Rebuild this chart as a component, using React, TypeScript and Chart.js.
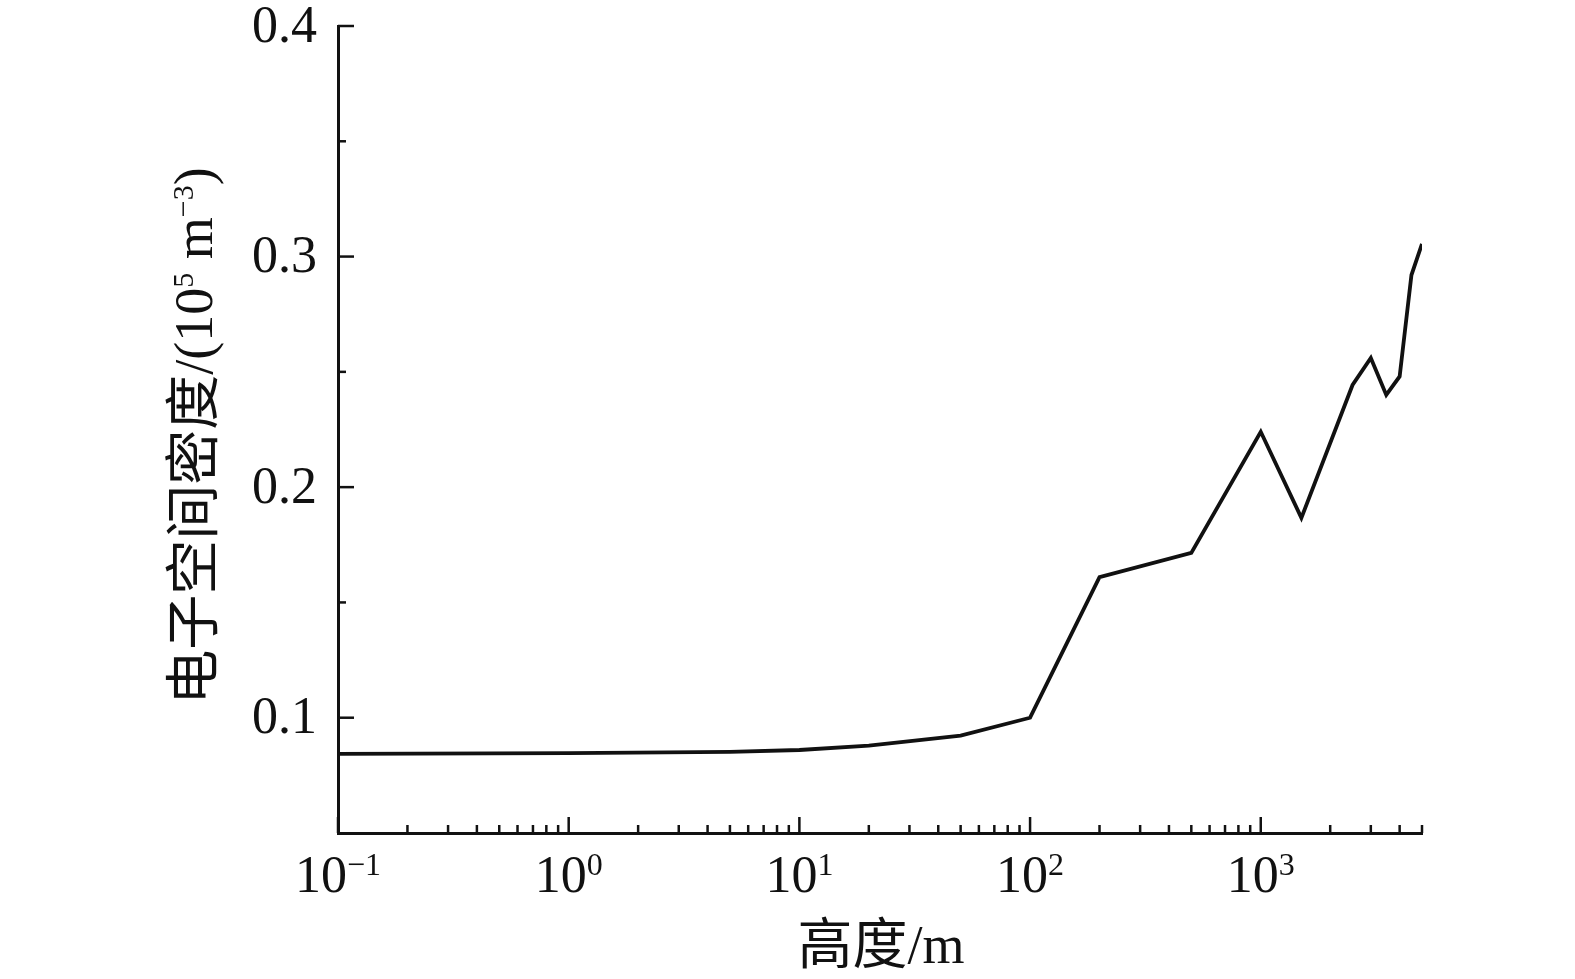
import { useEffect, useRef } from "react";
import { Chart, registerables } from "chart.js";

Chart.register(...registerables);

// heights (m) and electron space density (10^5 m^-3)
const heights = [0.1, 1, 5, 10, 20, 50, 100, 200, 500, 1000, 1500, 2500, 3000, 3500, 4000, 4500, 5000];
const density = [
  0.0843, 0.0846, 0.0852, 0.086, 0.0879, 0.0922, 0.1, 0.161, 0.1715, 0.224, 0.1867, 0.2443, 0.256, 0.24,
  0.248, 0.292, 0.3055,
];

const xMajorTicks = [0.1, 1, 10, 100, 1000];
const xMinorSteps = [2, 3, 4, 5, 6, 7, 8, 9];
const yMajorTicks = [0.1, 0.2, 0.3, 0.4];
const yMinorTicks = [0.15, 0.25, 0.35];

const SERIF = '"Liberation Serif", "Times New Roman", serif';
const CJK = '"Noto Sans CJK SC", sans-serif';
const INK = "#111";

// draw a run of [text, font, raise] pieces centred on (0,0) along +x
function drawPieces(ctx: CanvasRenderingContext2D, pieces: [string, string, number][], baseline: number) {
  let total = 0;
  const widths = pieces.map(([t, f]) => {
    ctx.font = f;
    const w = ctx.measureText(t).width;
    total += w;
    return w;
  });
  let x = -total / 2;
  pieces.forEach(([t, f, raise], i) => {
    ctx.font = f;
    ctx.fillText(t, x, baseline - raise);
    x += widths[i];
  });
}

const axisDecor = {
  id: "axisDecor",
  afterDraw(chart: Chart) {
    const { ctx, chartArea } = chart;
    const xs = chart.scales.x;
    const ys = chart.scales.y;
    ctx.save();
    ctx.strokeStyle = INK;
    ctx.fillStyle = INK;
    ctx.lineWidth = 2.5;

    // x ticks (inward)
    const bottom = chartArea.bottom;
    const tick = (px: number, len: number) => {
      ctx.beginPath();
      ctx.moveTo(px, bottom);
      ctx.lineTo(px, bottom - len);
      ctx.stroke();
    };
    xMajorTicks.forEach((v) => {
      tick(xs.getPixelForValue(v), 16);
      xMinorSteps.forEach((m) => {
        const mv = v * m;
        if (mv <= (xs.max as number)) tick(xs.getPixelForValue(mv), 8);
      });
    });

    // x labels 10^n
    ctx.textAlign = "left";
    ctx.textBaseline = "alphabetic";
    xMajorTicks.forEach((v) => {
      const e = Math.round(Math.log10(v));
      const sup = e < 0 ? "\u2212" + Math.abs(e) : String(e);
      ctx.save();
      ctx.translate(xs.getPixelForValue(v), 0);
      drawPieces(
        ctx,
        [
          ["10", `52px ${SERIF}`, 0],
          [sup, `32px ${SERIF}`, 17],
        ],
        892
      );
      ctx.restore();
    });

    // y ticks (inward) and labels
    const left = chartArea.left;
    const ytick = (py: number, len: number) => {
      ctx.beginPath();
      ctx.moveTo(left, py);
      ctx.lineTo(left + len, py);
      ctx.stroke();
    };
    ctx.font = `52px ${SERIF}`;
    ctx.textAlign = "right";
    ctx.textBaseline = "middle";
    yMajorTicks.forEach((v) => {
      const py = ys.getPixelForValue(v);
      ytick(py, 16);
      ctx.fillText(v.toFixed(1), left - 21, py + 2);
    });
    yMinorTicks.forEach((v) => ytick(ys.getPixelForValue(v), 8));

    // x title
    ctx.textBaseline = "alphabetic";
    ctx.textAlign = "left";
    ctx.save();
    ctx.translate(881, 0);
    drawPieces(
      ctx,
      [
        ["高度", `55px ${CJK}`, 0],
        ["/m", `54px ${SERIF}`, 0],
      ],
      963
    );
    ctx.restore();

    // y title, rotated
    ctx.save();
    ctx.translate(212, 436);
    ctx.rotate(-Math.PI / 2);
    drawPieces(
      ctx,
      [
        ["电子空间密度", `55px ${CJK}`, 0],
        ["/(10", `54px ${SERIF}`, 0],
        ["5", `30px ${SERIF}`, 19],
        [" m", `54px ${SERIF}`, 0],
        ["\u22123", `30px ${SERIF}`, 19],
        [")", `54px ${SERIF}`, 0],
      ],
      0
    );
    ctx.restore();

    ctx.restore();
  },
};

const App = () => {
  const canvasRef = useRef<HTMLCanvasElement>(null);

  useEffect(() => {
    document.body.style.margin = "0";
    if (!canvasRef.current) return;

    const chart = new Chart(canvasRef.current, {
      type: "line",
      data: {
        datasets: [
          {
            label: "电子空间密度",
            data: heights.map((h, i) => ({ x: h, y: density[i] })),
            borderColor: INK,
            borderWidth: 3.8,
            pointRadius: 0,
            tension: 0,
            fill: false,
          },
        ],
      },
      options: {
        animation: false,
        responsive: true,
        maintainAspectRatio: false,
        layout: { padding: { left: 338, right: 153, top: 26, bottom: 146 } },
        plugins: {
          legend: { display: false },
          tooltip: { enabled: false },
        },
        scales: {
          x: {
            type: "logarithmic",
            min: 0.1,
            max: 5000,
            grid: { display: false, drawTicks: false },
            ticks: { display: false },
            border: { display: true, color: INK, width: 3 },
          },
          y: {
            type: "linear",
            min: 0.05,
            max: 0.4,
            grid: { display: false, drawTicks: false },
            ticks: { display: false },
            border: { display: true, color: INK, width: 3 },
          },
        },
      },
      plugins: [axisDecor],
    });

    return () => {
      chart.destroy();
    };
  }, []);

  return (
    <div style={{ position: "relative", width: 1575, height: 979, background: "#fff" }}>
      <canvas ref={canvasRef}></canvas>
    </div>
  );
};

export default App;
